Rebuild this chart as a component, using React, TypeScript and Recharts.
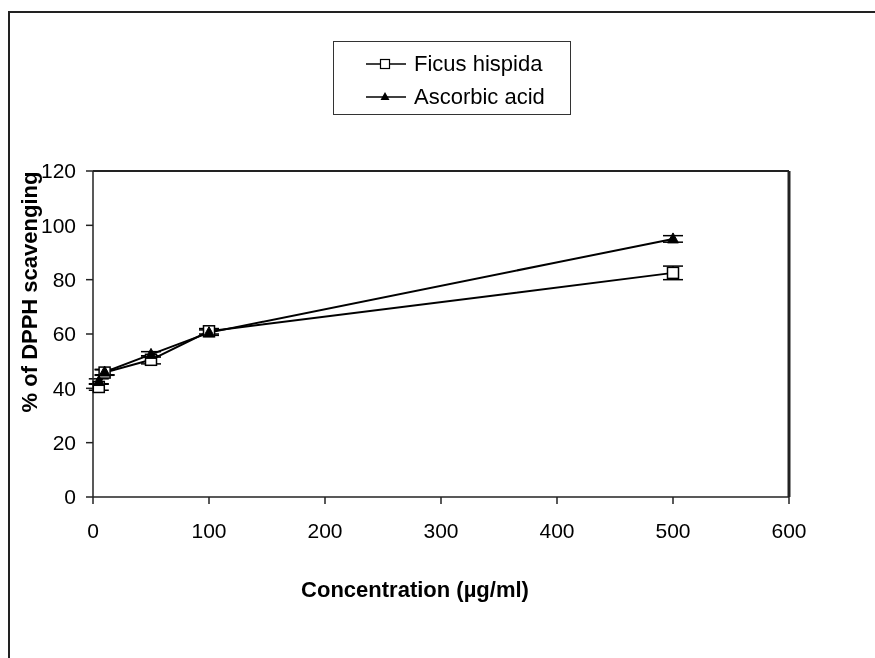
import React from 'react';
import { LineChart, Line, XAxis, YAxis, ErrorBar, ReferenceLine, Legend } from 'recharts';

const concentrations = [5, 10, 50, 100, 500];
const ficusHispida = [40.5, 45.8, 50.5, 61, 82.5];
const ficusError = [1.2, 1, 1.5, 1, 2.5];
const ascorbicAcid = [42.5, 46, 52.5, 60.5, 95];
const ascorbicError = [1, 1, 1, 1, 1.2];
const xTicks = [0, 100, 200, 300, 400, 500, 600];
const yTicks = [0, 20, 40, 60, 80, 100, 120];

const data = concentrations.map((c, i) => ({
  conc: c,
  ficus: ficusHispida[i],
  ficusErr: ficusError[i],
  ascorbic: ascorbicAcid[i],
  ascorbicErr: ascorbicError[i]
}));

const font = '"Liberation Sans", Arial, sans-serif';

const SquareDot = (props: any) => {
  const { cx, cy, index } = props;
  return <rect key={`sq-${index}`} x={cx - 5.5} y={cy - 5.5} width={11} height={11} fill="#fff" stroke="#000" strokeWidth={1.5} />;
};

const TriangleDot = (props: any) => {
  const { cx, cy, index } = props;
  return (
    <polygon
      key={`tr-${index}`}
      points={`${cx},${cy - 6} ${cx - 5.5},${cy + 4} ${cx + 5.5},${cy + 4}`}
      fill="#000"
      stroke="#000"
      strokeWidth={1}
    />
  );
};

const LegendBox = () => (
  <div
    style={{
      width: 238,
      height: 74,
      boxSizing: 'border-box',
      border: '1px solid #333',
      background: '#fff',
      fontFamily: font,
      fontSize: 22,
      color: '#000',
      position: 'relative'
    }}
  >
    <div style={{ position: 'absolute', left: 31, top: 9, display: 'flex', alignItems: 'center' }}>
      <svg width={42} height={24}>
        <line x1={1} y1={12} x2={41} y2={12} stroke="#000" strokeWidth={1.5} />
        <rect x={15.5} y={7.5} width={9} height={9} fill="#fff" stroke="#000" strokeWidth={1.2} />
      </svg>
      <span style={{ marginLeft: 7 }}>Ficus hispida</span>
    </div>
    <div style={{ position: 'absolute', left: 31, top: 42, display: 'flex', alignItems: 'center' }}>
      <svg width={42} height={24}>
        <line x1={1} y1={12} x2={41} y2={12} stroke="#000" strokeWidth={1.5} />
        <polygon points="20,7 15.5,15 24.5,15" fill="#000" />
      </svg>
      <span style={{ marginLeft: 7 }}>Ascorbic acid</span>
    </div>
  </div>
);

export default function App() {
  return (
    <div style={{ position: 'relative', width: 855, height: 640, fontFamily: font }}>
      <div
        style={{
          position: 'fixed',
          left: 8,
          top: 11,
          width: 900,
          height: 700,
          borderLeft: '2px solid #222',
          borderTop: '2px solid #222'
        }}
      />
      <div style={{ position: 'absolute', left: 0, top: 0 }}>
        <LineChart width={855} height={640} data={data} margin={{ top: 163, right: 74, bottom: 41, left: 25 }}>
          <XAxis
            dataKey="conc"
            type="number"
            domain={[0, 600]}
            ticks={xTicks}
            interval={0}
            height={110}
            stroke="#222"
            strokeWidth={1.5}
            tickSize={7}
            tickMargin={19}
            tick={{ fill: '#000', fontSize: 21, fontFamily: font }}
            label={{
              value: 'Concentration (µg/ml)',
              position: 'insideBottom',
              offset: 10,
              dx: -26,
              style: { fontWeight: 'bold', fontSize: 22, fill: '#000', fontFamily: font }
            }}
          />
          <YAxis
            type="number"
            domain={[0, 120]}
            ticks={yTicks}
            interval={0}
            width={60}
            stroke="#222"
            strokeWidth={1.5}
            tickSize={7}
            tickMargin={10}
            tick={{ fill: '#000', fontSize: 21, fontFamily: font }}
          />
          <ReferenceLine y={120} stroke="#222" strokeWidth={2} />
          <ReferenceLine x={600} stroke="#222" strokeWidth={3} />
          <Legend
            layout="vertical"
            align="center"
            verticalAlign="middle"
            content={() => <LegendBox />}
            wrapperStyle={{ position: 'absolute', left: 325, top: 33, width: 238, height: 74 }}
          />
          <Line
            type="linear"
            dataKey="ficus"
            name="Ficus hispida"
            stroke="#000"
            strokeWidth={2}
            dot={SquareDot}
            activeDot={false}
            isAnimationActive={false}
          >
            <ErrorBar dataKey="ficusErr" direction="y" width={10} stroke="#000" strokeWidth={1.5} />
          </Line>
          <Line
            type="linear"
            dataKey="ascorbic"
            name="Ascorbic acid"
            stroke="#000"
            strokeWidth={2}
            dot={TriangleDot}
            activeDot={false}
            isAnimationActive={false}
          >
            <ErrorBar dataKey="ascorbicErr" direction="y" width={10} stroke="#000" strokeWidth={1.5} />
          </Line>
        </LineChart>
      </div>
      <div
        style={{
          position: 'absolute',
          left: 22,
          top: 284,
          transform: 'translate(-50%, -50%) rotate(-90deg)',
          whiteSpace: 'nowrap',
          fontWeight: 'bold',
          fontSize: 22,
          color: '#000'
        }}
      >
        % of DPPH scavenging
      </div>
    </div>
  );
}
